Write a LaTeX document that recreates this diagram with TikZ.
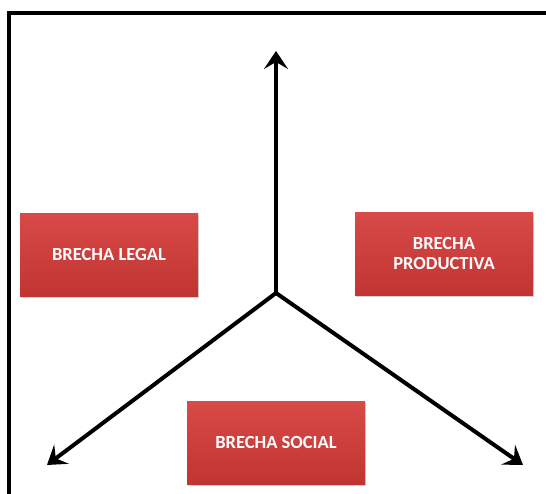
\documentclass[tikz,border=0pt]{standalone}
\usepackage{fontspec}
\setmainfont{Carlito}
\usepackage{tikz}
\usetikzlibrary{calc, arrows.meta, shadows, positioning}
\tikzset{
    brechanode/.style = {rectangle, draw=none, minimum width=178pt, minimum height=83pt,
      top color=redtop, bottom color=redbot, text=white, font=\bfseries\fontsize{18.5}{20}\selectfont,
      drop shadow={shadow xshift=1pt, shadow yshift=-2pt, opacity=0.35}},
    connect/.style = {black, line width=4pt, -{Stealth[length=18pt, width=24pt, inset=7pt]}},
    framebox/.style = {black, line width=3.5pt},
    every text node part/.style={align=center}
}
\definecolor{redtop}{RGB}{215, 74, 72}
\definecolor{redbot}{RGB}{192, 52, 50}

\begin{document}
\begin{tikzpicture}[x=1pt, y=1pt]
    \useasboundingbox (0,0) rectangle (546,494);
    \clip (0,0) rectangle (546,494);
    \draw [framebox] (9,-10) rectangle (560,481);

    \coordinate (centro) at (276,201);
    \coordinate (arriba) at (276,443);
    \coordinate (izq) at (47,29);
    \coordinate (der) at (523,29);

    \node [brechanode, name=legal] at (109,239) {BRECHA LEGAL};
    \node [brechanode, name=productiva] at (444,240) {BRECHA\\ PRODUCTIVA};
    \node [brechanode, name=social] at (276,51) {BRECHA SOCIAL};

    \draw [connect] (centro) -- (arriba);
    \draw [connect] (centro) -- (izq);
    \draw [connect] (centro) -- (der);
\end{tikzpicture}
\end{document}
